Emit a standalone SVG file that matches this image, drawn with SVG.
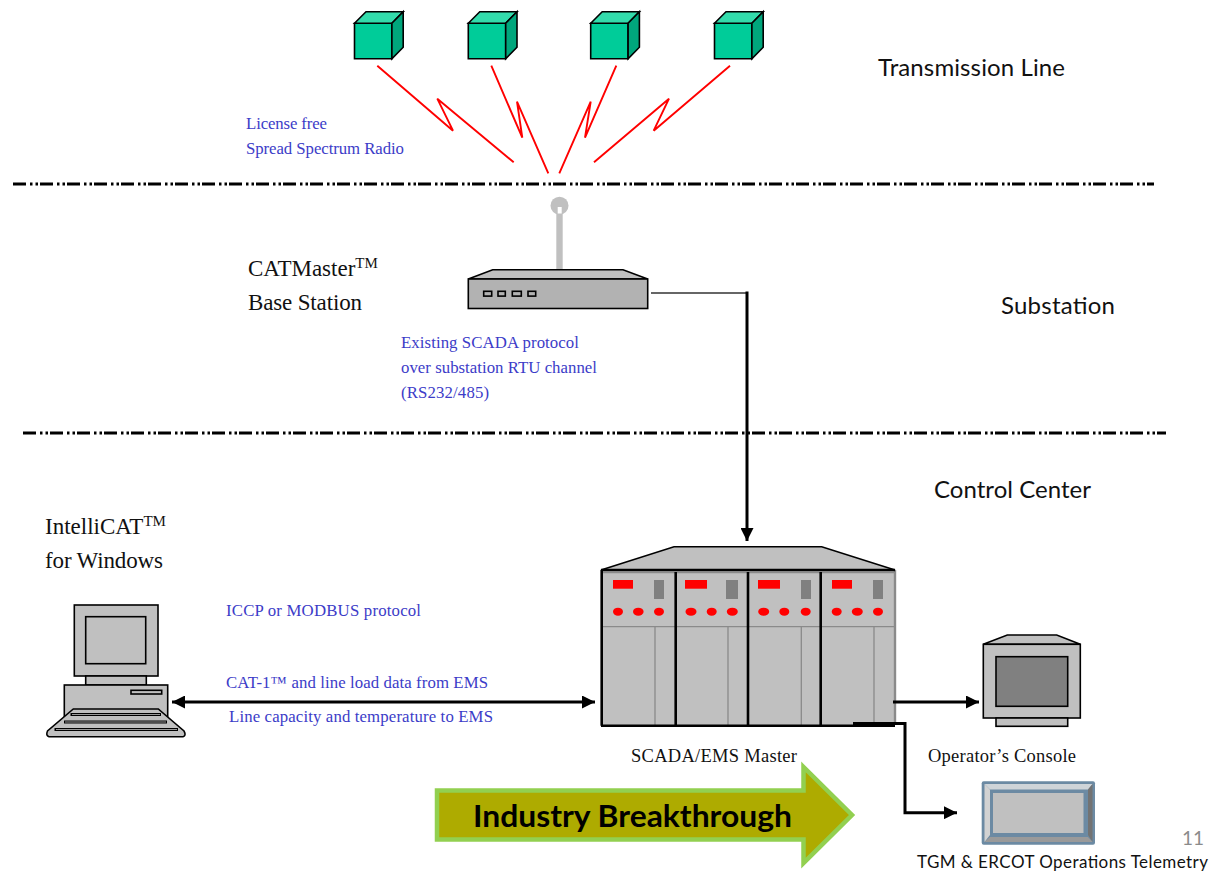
<svg xmlns="http://www.w3.org/2000/svg" width="1211" height="871" viewBox="0 0 1211 871">
<style>
.o{stroke:#000;stroke-width:1.6}
.sv{font-family:"Liberation Serif","Times New Roman",serif}
.sa{font-family:Lato,"Open Sans",sans-serif}
.b{fill:#3c3cc8;font-size:16.8px}
.k{fill:#111;font-size:23px}
.c{fill:#111;font-size:24px}
.bolt{fill:none;stroke:#f00;stroke-width:1.9}
.dd{fill:none;stroke:#000;stroke-width:3;stroke-dasharray:13 4 2.5 3 2.5 2}
.cf{fill:#00cc99}.ct{fill:#33dcac}.cs{fill:#00a67c}
.g{fill:#c0c0c0}.dg{fill:#808080}
.th{stroke:#000;stroke-width:3;fill:none}
.tn{stroke:#8a8a8a;stroke-width:1.3;fill:none}
.r{fill:#f00}
</style>
<defs>
<marker id="ah" markerUnits="userSpaceOnUse" viewBox="0 0 13 13" refX="13" refY="6.5" markerWidth="13" markerHeight="13" orient="auto-start-reverse"><path d="M0,0L13,6.5L0,13z" fill="#000"/></marker>
<symbol id="cube" overflow="visible">
<path class="cf o" d="M0,11.5H37.4V47H0z"/>
<path class="ct o" d="M0,11.5L11.5,0H48.7L37.4,11.5z"/>
<path class="cs o" d="M37.4,11.5L48.7,0V35.5L37.4,47z"/>
</symbol>
</defs>

<g id="dividers">
<line class="dd" x1="13" y1="184" x2="1154" y2="184"/>
<line class="dd" x1="23" y1="433" x2="1166" y2="433"/>
</g>

<g id="cube1"><use href="#cube" x="354.5" y="11.7"/></g>
<g id="cube2"><use href="#cube" x="468.3" y="11.7"/></g>
<g id="cube3"><use href="#cube" x="590.7" y="11.7"/></g>
<g id="cube4"><use href="#cube" x="714.5" y="11.7"/></g>

<g id="base-station">
<circle cx="559.5" cy="205.7" r="9" fill="#c0c0c0"/>
<rect x="556.3" y="210" width="6.4" height="60" fill="#c0c0c0"/>
<rect x="557.7" y="207" width="4" height="6.5" fill="#fff"/>
<path class="g o" d="M468.3,279L492.7,269.7H623L647.7,279z"/>
<rect x="468.3" y="279" width="179.4" height="29.5" fill="#b2b2b2" class="o"/>
<g class="o" fill="#b2b2b2">
<rect x="483.7" y="291.3" width="8" height="4.8"/>
<rect x="498" y="291.3" width="7.3" height="4.8"/>
<rect x="512.3" y="291.3" width="9" height="4.8"/>
<rect x="528" y="291.3" width="7.7" height="4.8"/>
</g>
</g>

<g id="scada-master">
<path class="g" stroke="#000" stroke-width="1.5" d="M601,570L674,546.7H821.7L895,570z"/>
<rect x="601.5" y="570" width="293.5" height="155.5" fill="#c0c0c0"/>
<path d="M895,570V725" stroke="#8a8a8a" stroke-width="2.4" fill="none"/>
<path class="tn" d="M602,572.5H895M602,626.7H895M655,627V725M728,627V725M801.3,627V725M874,627V725"/>
<g fill="#808080">
<rect x="654" y="580" width="10" height="19"/>
<rect x="726" y="580" width="12" height="19"/>
<rect x="801" y="580" width="10" height="19"/>
<rect x="873" y="580" width="10" height="19"/>
</g>
<g class="r">
<rect x="613" y="580" width="20" height="8.7"/>
<rect x="685" y="580" width="22" height="8.7"/>
<rect x="758" y="580" width="22" height="8.7"/>
<rect x="832" y="580" width="20" height="8.7"/>
<ellipse cx="618" cy="611.7" rx="5" ry="4"/>
<ellipse cx="638.3" cy="611.7" rx="5.3" ry="4"/>
<ellipse cx="659" cy="611.7" rx="5" ry="4"/>
<ellipse cx="691" cy="611.7" rx="5.5" ry="4"/>
<ellipse cx="711.7" cy="611.7" rx="5" ry="4"/>
<ellipse cx="732.3" cy="611.7" rx="5.5" ry="4"/>
<ellipse cx="763.7" cy="611.7" rx="5.5" ry="4"/>
<ellipse cx="784.3" cy="611.7" rx="5" ry="4"/>
<ellipse cx="805.7" cy="611.7" rx="5" ry="4"/>
<ellipse cx="836.7" cy="611.7" rx="5" ry="4"/>
<ellipse cx="857.3" cy="611.7" rx="5.5" ry="4"/>
<ellipse cx="878" cy="611.7" rx="5" ry="4"/>
</g>
<path d="M601,570H895M601.7,570V725.7M675.7,572V725.7M748,572V725.7M820.7,572V725.7M601,725.7H895" fill="none" stroke="#000" stroke-width="2.6"/>
</g>

<g id="computer">
<rect class="g o" x="74.3" y="605" width="83.7" height="71"/>
<rect class="g o" x="85.7" y="616.7" width="60" height="47"/>
<rect class="g o" x="85.7" y="676" width="60.6" height="9"/>
<rect class="g o" x="64.3" y="685" width="103.4" height="32"/>
<rect class="g o" x="131" y="690.3" width="30.7" height="3.7"/>
<path class="g o" d="M73.3,709H158.3L184,731Q186.5,735.7 183,736.7H49Q45.5,735.7 47.5,731z"/>
<path d="M70.5,714.5H161M64,722H167M54.5,729.5H178" fill="none" stroke="#000" stroke-width="3"/>
<path d="M72,714.5H160M65,722H166M56,729.5H177" fill="none" stroke="#999" stroke-width="1"/>
</g>

<g id="operator-console">
<path class="g o" d="M983.3,644.3L1007.3,635H1056.7L1080.3,644.3z"/>
<rect class="g o" x="983.3" y="644.3" width="97" height="73.7"/>
<rect class="dg o" x="996" y="656.7" width="71.7" height="49.6"/>
<rect class="g o" x="996" y="718" width="71.7" height="8.3"/>
</g>

<g id="telemetry">
<rect x="981.7" y="781.3" width="113.3" height="63.4" rx="2" fill="#6c8aa3"/>
<path d="M984.5,784H1092.5L1088,789.5H990z" fill="#cfd4d8"/>
<path d="M984.5,784V842L990,835V789.5z" fill="#d2d2d2"/>
<path d="M1092.5,784V842L1088,835V789.5z" fill="#737373"/>
<path d="M984.5,842H1092.5L1088,837H990z" fill="#9a9a9a"/>
<rect x="992" y="792" width="92.5" height="42" fill="#c0c0c0" stroke="#6c8aa3" stroke-width="2"/>
</g>

<g id="breakthrough">
<path d="M437,790.5H803.5V767L852,815L803.5,863V839.5H437z" fill="#aeab00" stroke="#92d050" stroke-width="4.5"/>
<text class="sa" x="473" y="827" font-size="31" font-weight="700" fill="#000" textLength="319" lengthAdjust="spacingAndGlyphs">Industry Breakthrough</text>
</g>

<g id="connectors">
<path class="bolt" d="M377.3,65.7L453,130.7L437.3,98.7L513.7,162.3"/>
<path class="bolt" d="M491.3,65.7L522.3,137.7L517,101.7L548.3,173.3"/>
<path class="bolt" d="M616.3,65.7L585,137.7L590.7,101.7L559.3,173.3"/>
<path class="bolt" d="M730,65.7L653.7,130.7L669,98.7L594,162.3"/>
<path d="M651,293H747" fill="none" stroke="#333" stroke-width="1.5"/>
<path class="th" d="M747,291.5V541" marker-end="url(#ah)"/>
<path class="th" d="M172,702H595" marker-start="url(#ah)" marker-end="url(#ah)"/>
<path class="th" d="M893,702H979" marker-end="url(#ah)"/>
<path class="th" d="M853,723.5H905V812.7H957" marker-end="url(#ah)"/>
</g>

<g id="labels">
<text class="sa c" x="878" y="76" textLength="187">Transmission Line</text>
<text class="sa c" x="1001" y="314" textLength="114">Substation</text>
<text class="sa c" x="934" y="498" textLength="157">Control Center</text>
<text class="sv b" x="246" y="129" textLength="81">License free</text>
<text class="sv b" x="246" y="154" textLength="158">Spread Spectrum Radio</text>
<text class="sv k" x="248" y="276">CATMaster<tspan font-size="15" dy="-8">TM</tspan></text>
<text class="sv k" x="248" y="310" textLength="114">Base Station</text>
<text class="sv b" x="401" y="348" textLength="178">Existing SCADA protocol</text>
<text class="sv b" x="401" y="373" textLength="196">over substation RTU channel</text>
<text class="sv b" x="401" y="398" textLength="88">(RS232/485)</text>
<text class="sv k" x="45" y="534">IntelliCAT<tspan font-size="15" dy="-8">TM</tspan></text>
<text class="sv k" x="45" y="568" textLength="118">for Windows</text>
<text class="sv b" x="226" y="616" textLength="195">ICCP or MODBUS protocol</text>
<text class="sv b" x="226" y="688" textLength="262">CAT-1™ and line load data from EMS</text>
<text class="sv b" x="229" y="722" textLength="264">Line capacity and temperature to EMS</text>
<text class="sv" x="631" y="762" font-size="18.5" fill="#111" textLength="166">SCADA/EMS Master</text>
<text class="sv" x="928" y="762" font-size="18.5" fill="#111" textLength="148">Operator’s Console</text>
<text class="sa" x="917" y="868" font-size="17" fill="#111" textLength="291">TGM &amp; ERCOT Operations Telemetry</text>
<text class="sa" x="1182" y="845" font-size="19" fill="#8b8b8b" textLength="22">11</text>
</g>
</svg>
